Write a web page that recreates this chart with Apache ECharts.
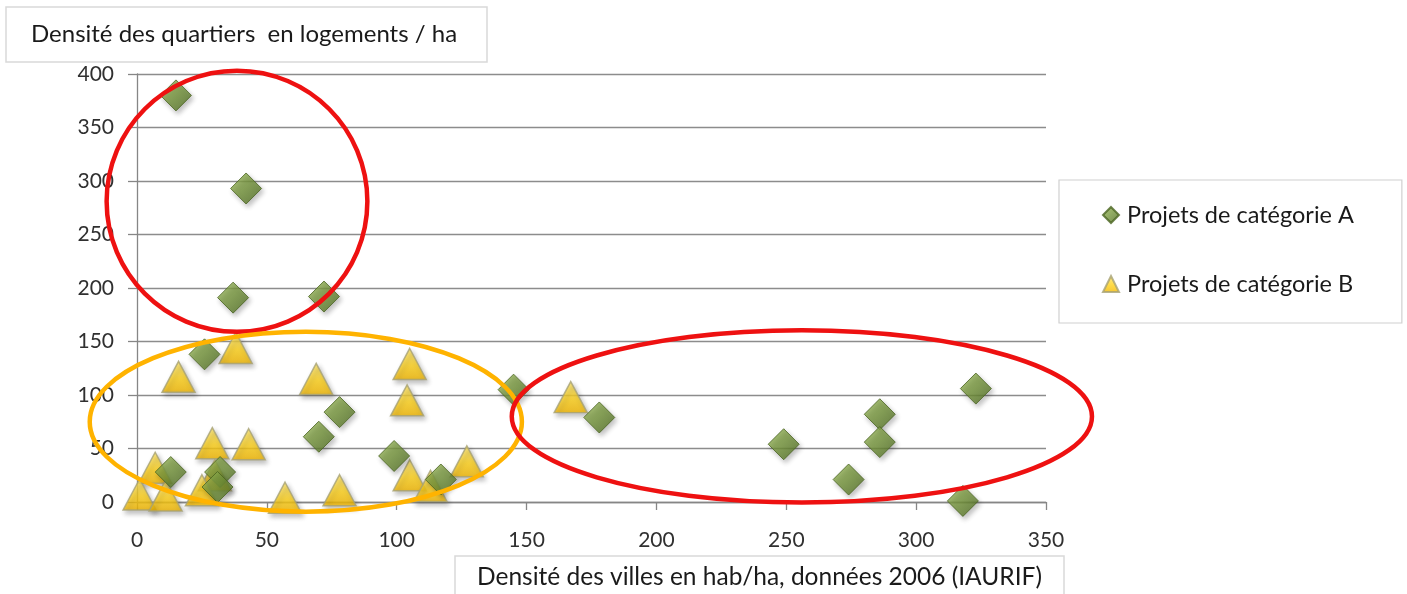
<!DOCTYPE html>
<html>
<head>
<meta charset="utf-8">
<script src="https://cdn.jsdelivr.net/npm/echarts@6/dist/echarts.min.js"></script>
<style>
  html, body { margin: 0; padding: 0; background: #ffffff; }
  #chart { width: 1407px; height: 594px; }
</style>
</head>
<body>
<div id="chart"></div>
<script>
// Densité des villes (hab/ha) vs densité des quartiers (logements/ha)
const seriesNames = ['Projets de catégorie A', 'Projets de catégorie B'];

const categoryA = [
  [15, 380], [42, 293], [37, 191], [72, 192], [26, 138],
  [13, 28], [32, 28], [31, 14], [78, 84], [70, 61],
  [99, 43], [117, 21], [145, 105], [178, 79], [249, 54],
  [286, 82], [286, 56], [274, 21], [323, 106], [318, 1]
];

const categoryB = [
  [16, 117], [38, 144], [29, 55], [43, 54], [7, 32],
  [30, 25], [1, 7], [11, 6], [25, 11], [57, 4],
  [69, 115], [105, 129], [104, 95], [105, 25], [113, 15],
  [127, 38], [78, 11], [167, 98]
];

const xTicks = [0, 50, 100, 150, 200, 250, 300, 350];
const yTicks = [0, 50, 100, 150, 200, 250, 300, 350, 400];

const xTitle = 'Densité des villes en hab/ha, données 2006 (IAURIF)';
const yTitle = 'Densité des quartiers  en logements / ha';

// Highlight groups, in data units: centre x, centre y, radius x, radius y
const highlightGroups = [
  { cx: 38.5, cy: 281, rx: 50.2, ry: 122, color: '#EE1111' },
  { cx: 65, cy: 75, rx: 83.2, ry: 84, color: '#FFB300' },
  { cx: 256, cy: 80, rx: 111.7, ry: 80.5, color: '#EE1111' }
];

const FONT = 'Lato, "Noto Sans", sans-serif';

const diamondFill = new echarts.graphic.LinearGradient(0, 0, 1, 1, [
  { offset: 0, color: '#9CBB5A' },
  { offset: 0.5, color: '#73933A' },
  { offset: 1, color: '#4B6820' }
]);
const triangleFill = new echarts.graphic.LinearGradient(0, 0, 0, 1, [
  { offset: 0, color: '#FFE66A' },
  { offset: 0.55, color: '#FFD21A' },
  { offset: 1, color: '#F2B600' }
]);

const chart = echarts.init(document.getElementById('chart'), null, { renderer: 'canvas' });

const option = {
  animation: false,
  backgroundColor: '#ffffff',
  textStyle: { fontFamily: FONT },
  title: [
    {
      text: yTitle,
      left: 6, top: 7,
      padding: [15, 30, 16, 25],
      borderColor: '#D9D9D9', borderWidth: 1.5,
      backgroundColor: '#ffffff',
      textStyle: { fontFamily: FONT, fontSize: 24, fontWeight: 'normal', color: '#1a1a1a' }
    },
    {
      text: xTitle,
      left: 455, top: 556,
      padding: [9, 22, 16, 22],
      borderColor: '#D9D9D9', borderWidth: 1.5,
      backgroundColor: '#ffffff',
      textStyle: { fontFamily: FONT, fontSize: 24.5, fontWeight: 'normal', color: '#1a1a1a' }
    }
  ],
  legend: {
    orient: 'vertical',
    left: 1059, top: 180,
    padding: [23, 48, 27, 43],
    itemGap: 45,
    itemWidth: 16, itemHeight: 16,
    borderColor: '#D0D0D0', borderWidth: 1.2,
    backgroundColor: '#ffffff',
    textStyle: { fontFamily: FONT, fontSize: 23.5, color: '#1a1a1a', padding: [0, 0, 0, 3] },
    data: [
      { name: seriesNames[0], icon: 'diamond' },
      { name: seriesNames[1], icon: 'triangle' }
    ]
  },
  grid: { left: 137, right: 361, top: 74, bottom: 92, containLabel: false },
  xAxis: {
    type: 'value',
    min: xTicks[0], max: xTicks[xTicks.length - 1], interval: 50,
    axisLine: { show: true, onZero: false, lineStyle: { color: '#868686', width: 1.3 } },
    axisTick: { show: true, length: 8, lineStyle: { color: '#868686', width: 1.3 } },
    axisLabel: { margin: 28, fontSize: 21, color: '#303030', fontFamily: FONT },
    splitLine: { show: false }
  },
  yAxis: {
    type: 'value',
    min: yTicks[0], max: yTicks[yTicks.length - 1], interval: 50,
    axisLine: { show: true, lineStyle: { color: '#868686', width: 1.3 } },
    axisTick: { show: true, length: 9, lineStyle: { color: '#868686', width: 1.3 } },
    axisLabel: { margin: 23, fontSize: 21, color: '#303030', fontFamily: FONT },
    splitLine: { show: true, lineStyle: { color: '#8C8C8C', width: 1.4 } }
  },
  series: [
    {
      name: seriesNames[1],
      type: 'scatter',
      symbol: 'triangle',
      symbolSize: [33, 31],
      data: categoryB,
      z: 2,
      itemStyle: {
        color: triangleFill,
        borderColor: '#A6A173', borderWidth: 1.5,
        shadowBlur: 5, shadowOffsetX: 2, shadowOffsetY: 3, shadowColor: 'rgba(0,0,0,0.3)'
      }
    },
    {
      name: seriesNames[0],
      type: 'scatter',
      symbol: 'diamond',
      symbolSize: [31, 31],
      data: categoryA,
      z: 3,
      itemStyle: {
        color: diamondFill,
        borderColor: '#4A6420', borderWidth: 1,
        shadowBlur: 5, shadowOffsetX: 2, shadowOffsetY: 3, shadowColor: 'rgba(0,0,0,0.3)'
      }
    }
  ]
};

chart.setOption(option);

// Ellipses drawn around groups of projects, placed through the grid's scales
function drawHighlights() {
  const elements = highlightGroups.map(function (g) {
    const c = chart.convertToPixel({ gridIndex: 0 }, [g.cx, g.cy]);
    const ex = chart.convertToPixel({ gridIndex: 0 }, [g.cx + g.rx, g.cy + g.ry]);
    return {
      type: 'ellipse',
      z: 100,
      silent: true,
      shape: { cx: c[0], cy: c[1], rx: Math.abs(ex[0] - c[0]), ry: Math.abs(c[1] - ex[1]) },
      style: { fill: null, stroke: g.color, lineWidth: 4.5 }
    };
  });
  chart.setOption({ graphic: elements });
}
drawHighlights();
</script>
</body>
</html>
